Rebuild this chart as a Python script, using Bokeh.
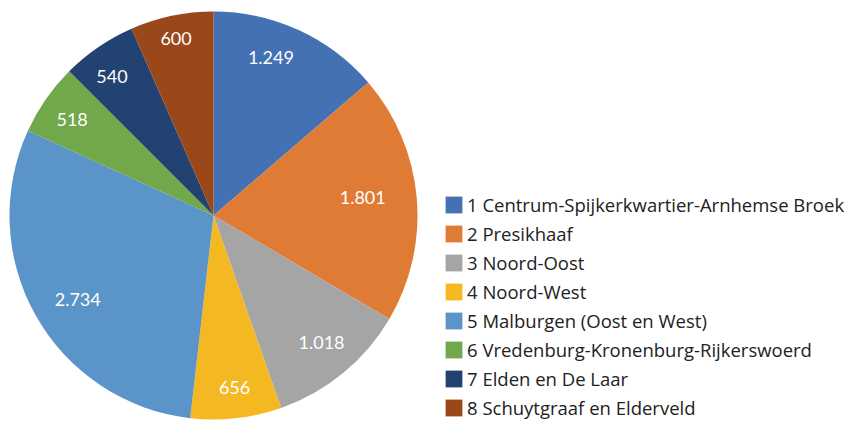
import math
from bokeh.plotting import figure
from bokeh.models import Range1d, ColumnDataSource, Legend, LegendItem
from bokeh.core.properties import value
from bokeh.embed import file_html
from bokeh.resources import INLINE

# Data
categories = [
    "1 Centrum-Spijkerkwartier-Arnhemse Broek",
    "2 Presikhaaf",
    "3 Noord-Oost",
    "4 Noord-West",
    "5 Malburgen (Oost en West)",
    "6 Vredenburg-Kronenburg-Rijkerswoerd",
    "7 Elden en De Laar",
    "8 Schuytgraaf en Elderveld",
]
values = [1249, 1801, 1018, 656, 2734, 518, 540, 600]

# Style
colors = ["#4470B4", "#E07B36", "#A5A5A5", "#F4B922", "#5A94C8", "#70A84A", "#224272", "#9A471A"]
# label placement (fraction of radius, angle offset in degrees)
label_r = [0.824, 0.737, 0.816, 0.848, 0.782, 0.838, 0.844, 0.887]
label_off = [-4.7, -1.9, -1.0, -0.6, -2.2, -0.55, -1.8, -0.1]

W, H = 848, 422
cx, cy, R = 213, 422 - 215, 204
FONT = "Lato"
LEG_FONT = "Open Sans"

total = sum(values)
starts, ends, lx, ly, texts = [], [], [], [], []
cum = 0.0
for i, v in enumerate(values):
    f0 = cum / total
    cum += v
    f1 = cum / total
    starts.append(math.pi / 2 - f0 * 2 * math.pi)
    ends.append(math.pi / 2 - f1 * 2 * math.pi)
    mid = (f0 + f1) / 2 * 360 + label_off[i]
    a = math.radians(mid)
    lx.append(cx + label_r[i] * R * math.sin(a))
    ly.append(cy + label_r[i] * R * math.cos(a))
    texts.append(f"{v:,}".replace(",", "."))

src = ColumnDataSource(dict(start=starts, end=ends, color=colors, name=categories))

p = figure(width=W, height=H, x_range=Range1d(0, W), y_range=Range1d(0, H),
           output_backend="svg", toolbar_location=None, min_border=0)
p.axis.visible = False
p.grid.visible = False
p.outline_line_color = None

r = p.wedge(x=cx, y=cy, radius=R, start_angle="start", end_angle="end", direction="clock",
            fill_color="color", line_color=None, source=src)

p.text(x=lx, y=ly, text=texts, text_color="white", text_font=value(FONT),
       text_font_size="18px", text_align="center", text_baseline="middle")

items = [LegendItem(label=c, renderers=[r], index=i) for i, c in enumerate(categories)]
legend = Legend(items=items, location=(443, 1), glyph_width=21, glyph_height=21,
                label_standoff=3, spacing=2, padding=0, margin=0, label_height=27,
                label_text_font=LEG_FONT, label_text_font_size="18.5px", label_text_color="#222222",
                border_line_color=None, background_fill_alpha=0)
p.add_layout(legend, "center")

open("out.html", "w").write(file_html(p, INLINE))
